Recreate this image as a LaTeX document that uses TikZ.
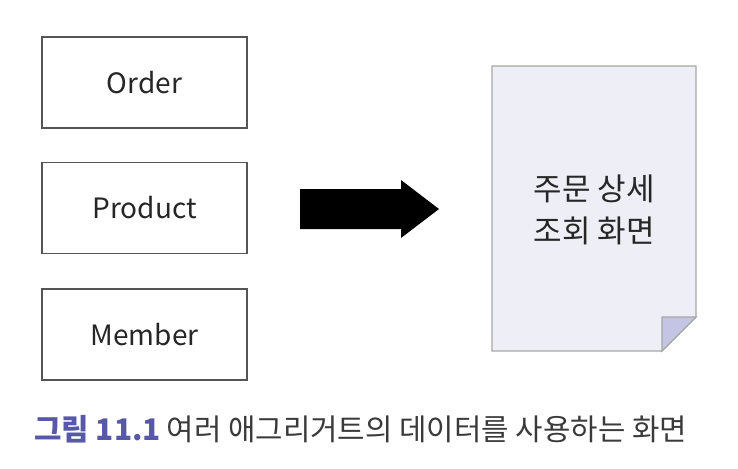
\documentclass[tikz,border=0pt]{standalone}
\usepackage{fontspec}
\setmainfont{Noto Sans CJK KR}
\definecolor{boxline}{HTML}{555555}
\definecolor{docfill}{HTML}{EEEEF7}
\definecolor{docline}{HTML}{A8A8A8}
\definecolor{foldfill}{HTML}{C4C4E4}
\definecolor{capblue}{HTML}{5858A8}
\definecolor{captext}{HTML}{3A3A3A}
\begin{document}
\begin{tikzpicture}[x=1pt,y=-1pt,
  entity/.style={draw=boxline,line width=1.8pt,minimum width=205pt,minimum height=91pt,inner sep=0pt,font=\fontsize{28}{32}\selectfont,text=black!85},
]
\useasboundingbox (0,0) rectangle (738,468);
\node[entity] (order) at (144.5,82.5) {Order};
\node[entity] (product) at (144.5,208) {Product};
\node[entity] (member) at (144.5,334.5) {Member};
% document
\filldraw[fill=docfill,draw=docline,line width=1.3pt] (492,66) -- (696,66) -- (696,317) -- (662,351) -- (492,351) -- cycle;
\filldraw[fill=foldfill,draw=docline,line width=1.3pt] (696,317) -- (662,317) -- (662,351) -- cycle;
\node[align=center,font=\fontsize{31}{42}\selectfont,text=black!85] (doc) at (594,210) {주문 상세\\조회 화면};
% arrow
\fill[black] (300,189) -- (401,189) -- (401,180) -- (439,209) -- (401,238) -- (401,229) -- (300,229) -- cycle;
\node[anchor=west,inner sep=0pt,font=\fontsize{29.8}{34}\selectfont] (cap) at (34,429) {\textcolor{capblue}{\bfseries 그림 11.1}\hspace{6pt}\textcolor{captext}{여러 애그리거트의 데이터를 사용하는 화면}};
\end{tikzpicture}
\end{document}
